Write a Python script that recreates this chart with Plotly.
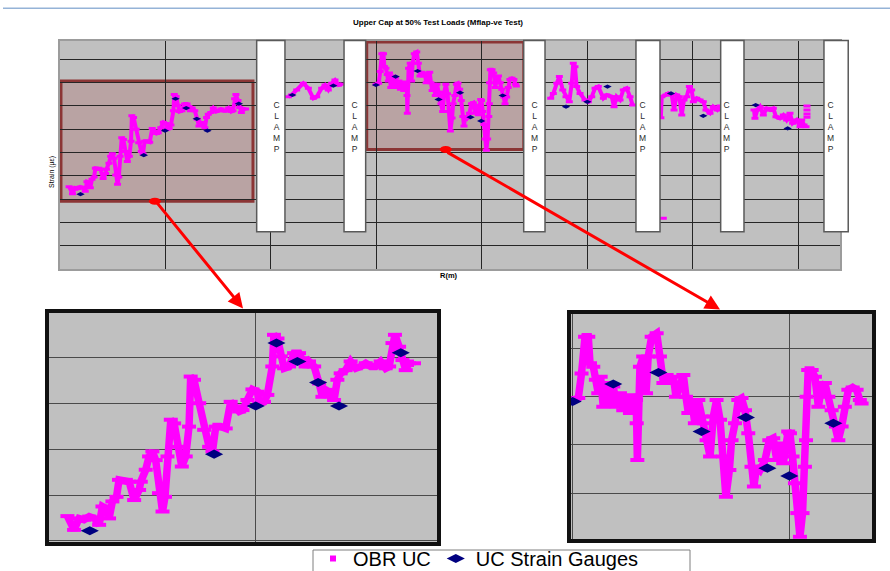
import plotly.graph_objects as go

W, H = 890, 571
FONT = "Arial, 'Liberation Sans', sans-serif"
PINK = "#FF00FF"
NAVY = "#000080"

# ---------------------------------------------------------------------------
# OBR (fibre optic) strain along the upper cap, one list per measured zone
# between clamps.  R in m, strain in microstrain.
# ---------------------------------------------------------------------------
R_OBR_1 = [0.091, 0.123, 0.147, 0.171, 0.196, 0.220, 0.244, 0.260, 0.276, 0.292,
           0.308, 0.328, 0.340, 0.373, 0.389, 0.413, 0.437, 0.445, 0.469, 0.485,
           0.501, 0.517, 0.533, 0.550, 0.562, 0.574, 0.590, 0.606, 0.622, 0.643,
           0.662, 0.678, 0.686, 0.702, 0.727, 0.751, 0.775, 0.791, 0.807, 0.831,
           0.855, 0.879, 0.903, 0.920, 0.936, 0.960, 0.984, 1.008, 1.016, 1.040,
           1.056, 1.080, 1.088, 1.105, 1.121, 1.137, 1.161, 1.185, 1.209, 1.225,
           1.241, 1.257, 1.282, 1.306, 1.322, 1.338, 1.362, 1.378, 1.394, 1.410,
           1.434, 1.458, 1.483, 1.507, 1.531, 1.555, 1.579, 1.603, 1.627, 1.644,
           1.660, 1.672, 1.692, 1.708, 1.724, 1.740, 1.764]
STRAIN_OBR_1 = [354, 324, 349, 346, 353, 349, 335, 375, 371, 349,
                386, 396, 433, 433, 429, 389, 411, 429, 455, 484,
                495, 476, 404, 364, 396, 484, 564, 556, 505, 462,
                484, 549, 658, 651, 600, 542, 505, 495, 549, 549,
                545, 603, 593, 582, 585, 607, 630, 625, 600, 603,
                618, 680, 749, 741, 702, 676, 680, 709, 709, 698,
                680, 691, 680, 643, 614, 629, 622, 607, 651, 665,
                672, 691, 676, 680, 687, 680, 680, 691, 676, 680,
                731, 749, 723, 694, 672, 687, 687]

R_OBR_2 = [2.169, 2.201, 2.248, 2.311, 2.359, 2.406, 2.438, 2.485, 2.517, 2.548,
           2.580, 2.611, 2.643, 2.675]
STRAIN_OBR_2 = [740, 747, 769, 797, 776, 733, 740, 776, 790, 769,
                797, 811, 790, 793]

R_OBR_3 = [3.002, 3.025, 3.040, 3.056, 3.071, 3.079, 3.094, 3.106, 3.117, 3.128,
           3.140, 3.156, 3.171, 3.186, 3.202, 3.217, 3.232, 3.248, 3.263, 3.278,
           3.291, 3.294, 3.297, 3.309, 3.324, 3.337, 3.347, 3.363, 3.386, 3.401,
           3.417, 3.432, 3.447, 3.463, 3.475, 3.493, 3.509, 3.521, 3.532, 3.547,
           3.562, 3.578, 3.593, 3.604, 3.616, 3.632, 3.647, 3.662, 3.678, 3.693,
           3.705, 3.721, 3.731, 3.747, 3.762, 3.777, 3.793, 3.808, 3.823, 3.834,
           3.846, 3.862, 3.885, 3.905, 3.923, 3.939, 3.954, 3.969, 3.992, 4.000,
           4.012, 4.023, 4.034, 4.046, 4.058, 4.069, 4.074, 4.077, 4.084, 4.100,
           4.115, 4.131, 4.146, 4.161, 4.177, 4.192, 4.212, 4.223, 4.238, 4.253,
           4.269, 4.289, 4.307, 4.322, 4.330]
STRAIN_OBR_3 = [793, 797, 848, 924, 924, 869, 862, 835, 807, 841,
                779, 828, 786, 821, 779, 807, 772, 800, 766, 803,
                793, 745, 669, 862, 883, 807, 883, 924, 931, 883,
                828, 845, 828, 841, 800, 821, 845, 800, 766, 793,
                745, 793, 759, 745, 710, 676, 759, 793, 752, 676,
                593, 648, 710, 745, 793, 797, 772, 724, 655, 614,
                655, 648, 669, 710, 714, 669, 703, 662, 728, 724,
                676, 621, 559, 510, 559, 655, 710, 800, 855, 855,
                841, 779, 821, 828, 800, 772, 738, 710, 738, 779,
                814, 819, 814, 793, 786]

R_OBR_4 = [4.656, 4.681, 4.713, 4.738, 4.770, 4.801, 4.832, 4.855, 4.870, 4.886,
           4.902, 4.934, 4.981, 5.013, 5.045, 5.076, 5.107, 5.155, 5.187, 5.234,
           5.256, 5.281, 5.313, 5.344, 5.376, 5.408, 5.433]
STRAIN_OBR_4 = [733, 754, 797, 826, 769, 740, 718, 797, 883, 868,
                783, 754, 726, 718, 740, 776, 783, 733, 747, 740,
                697, 740, 726, 769, 776, 740, 704]

R_OBR_5 = [5.700, 5.708, 5.749, 5.771, 5.803, 5.825, 5.850, 5.875, 5.898, 5.919,
           5.945, 5.970, 5.992, 6.008, 6.040, 6.071, 6.102, 6.128, 6.166, 6.197,
           6.235, 6.261]
STRAIN_OBR_5 = [650, 740, 747, 754, 747, 683, 747, 740, 661, 726,
                740, 783, 769, 718, 733, 726, 718, 683, 669, 697,
                683, 700]

R_OBR_6 = [6.583, 6.592, 6.614, 6.640, 6.671, 6.703, 6.735, 6.766, 6.791, 6.829,
           6.861, 6.892, 6.924, 6.949, 6.987, 7.019, 7.035, 7.057, 7.076]
STRAIN_OBR_6 = [683, 647, 683, 697, 661, 690, 683, 690, 654, 647,
                661, 640, 669, 626, 640, 611, 640, 619, 611]

# isolated OBR readings (not joined to their neighbours)
R_OBR_SINGLE = [5.723, 7.085, 7.085, 7.085, 7.085]
STRAIN_OBR_SINGLE = [219, 700, 683, 666, 652]

# conventional strain gauges on the upper cap
R_GAUGE = [0.199, 0.799, 1.000, 1.100, 1.201, 1.301, 1.402, 1.700,
           2.207, 2.596,
           2.999, 3.186, 3.394, 3.593, 3.797, 3.896, 3.997, 4.200,
           4.801, 5.003, 5.194,
           5.796, 6.102,
           6.599, 6.902]
STRAIN_GAUGE = [322, 489, 594, 731, 691, 645, 594, 710,
                747, 787,
                790, 826, 850, 728, 757, 652, 636, 745,
                697, 718, 783,
                754, 658,
                704, 604]

# clamp positions along the blade (R start, R end)
CLAMPS_R = [(1.869, 2.137), (2.697, 2.902), (4.400, 4.602),
            (5.464, 5.692), (6.267, 6.488), (7.246, 7.476)]

# axis extents
MAIN_R = [0.0, 7.398]
MAIN_STRAIN = [0.0, 978.5]
ZOOM1_R = [0.002, 1.875]
ZOOM1_STRAIN = [297.6, 796.5]
ZOOM2_R = [2.990, 4.378]
ZOOM2_STRAIN = [505.4, 971.0]

# highlighted regions on the overview (R0, R1, strain0, strain1)
HIGHLIGHTS = [(0.014, 1.834, 291.5, 807.0), (2.912, 4.401, 513.5, 974.0)]

TITLE = "Upper Cap at 50% Test Loads (Mflap-ve Test)"


def joined(pairs):
    """Concatenate (x, y) lists with None breaks between them."""
    xs, ys = [], []
    for x, y in pairs:
        if xs:
            xs.append(None)
            ys.append(None)
        xs.extend(x)
        ys.extend(y)
    return xs, ys


zones = [(R_OBR_1, STRAIN_OBR_1), (R_OBR_2, STRAIN_OBR_2), (R_OBR_3, STRAIN_OBR_3),
         (R_OBR_4, STRAIN_OBR_4), (R_OBR_5, STRAIN_OBR_5), (R_OBR_6, STRAIN_OBR_6)]
zones += [([r], [s]) for r, s in zip(R_OBR_SINGLE, STRAIN_OBR_SINGLE)]
R_OBR, STRAIN_OBR = joined(zones)


def px_x(p):
    return p / W


def px_y(p):
    return 1 - p / H


fig = go.Figure()

panels = [
    dict(xa="x", ya="y", lw=4, mk=5, mlw=3, gs=6),
    dict(xa="x2", ya="y2", lw=7.5, mk=10, mlw=4, gs=13),
    dict(xa="x3", ya="y3", lw=7.5, mk=10, mlw=4, gs=13),
]
for i, p in enumerate(panels):
    fig.add_trace(go.Scatter(
        x=R_OBR, y=STRAIN_OBR, xaxis=p["xa"], yaxis=p["ya"],
        mode="lines+markers", name="OBR UC", showlegend=False,
        line=dict(color=PINK, width=p["lw"]),
        marker=dict(symbol="line-ew", size=p["mk"], color=PINK,
                    line=dict(color=PINK, width=p["mlw"])),
        connectgaps=False, hoverinfo="skip"))
    if i == 1:
        # legend key for the OBR series: small square marker
        fig.add_trace(go.Scatter(
            x=[None], y=[None], xaxis=p["xa"], yaxis=p["ya"], mode="markers",
            name="OBR UC", marker=dict(symbol="square", size=6, color=PINK)))
    fig.add_trace(go.Scatter(
        x=R_GAUGE, y=STRAIN_GAUGE, xaxis=p["xa"], yaxis=p["ya"],
        mode="markers", name="UC Strain Gauges", showlegend=(i == 1),
        marker=dict(symbol="diamond-wide", size=p["gs"], color=NAVY),
        hoverinfo="skip"))

common = dict(showticklabels=False, ticks="", zeroline=False, showgrid=True,
              gridwidth=1, fixedrange=True, showline=True, mirror=True)
main_ax = dict(common, gridcolor="#262626", linecolor="#9c9c9c", linewidth=1.5)
inset_ax = dict(common, gridcolor="#4a4a4a", linecolor="#111111", linewidth=4)

fig.update_layout(
    width=W, height=H, autosize=False,
    margin=dict(l=0, r=0, t=0, b=0, pad=0, autoexpand=False),
    paper_bgcolor="white", plot_bgcolor="#C0C0C0",
    font=dict(family=FONT, color="black"),
    title=dict(text="<b>" + TITLE + "</b>", x=px_x(438), y=px_y(22),
               xref="paper", yref="paper", xanchor="center", yanchor="middle",
               font=dict(size=8, family=FONT, color="black")),
    xaxis=dict(main_ax, domain=[px_x(59.5), px_x(840)], range=MAIN_R,
               tick0=0, dtick=1, anchor="y"),
    yaxis=dict(main_ax, domain=[px_y(269.3), px_y(41)], range=MAIN_STRAIN,
               tick0=0, dtick=100, anchor="x"),
    xaxis2=dict(inset_ax, domain=[px_x(49), px_x(437)], range=ZOOM1_R,
                tick0=0, dtick=1, anchor="y2"),
    yaxis2=dict(inset_ax, domain=[px_y(542), px_y(313)], range=ZOOM1_STRAIN,
                tick0=0, dtick=100, anchor="x2"),
    xaxis3=dict(inset_ax, domain=[px_x(570.7), px_x(872)], range=ZOOM2_R,
                tick0=0, dtick=1, anchor="y3"),
    yaxis3=dict(inset_ax, domain=[px_y(539), px_y(314)], range=ZOOM2_STRAIN,
                tick0=0, dtick=100, anchor="x3"),
    showlegend=True,
    legend=dict(orientation="h", xref="container", yref="container",
                x=px_x(313), y=px_y(539), xanchor="left", yanchor="top",
                bgcolor="rgba(0,0,0,0)", borderwidth=0,
                font=dict(size=20, family=FONT, color="black"),
                itemwidth=30, tracegroupgap=0),
)

shapes = [
    # header rule
    dict(type="line", xref="paper", yref="paper", x0=px_x(3), x1=1,
         y0=px_y(8.3), y1=px_y(8.3), line=dict(color="#95B3D7", width=1.5)),
    # legend frame
    dict(type="rect", xref="paper", yref="paper", x0=px_x(313), x1=px_x(690),
         y0=px_y(580), y1=px_y(550), layer="above", fillcolor="white",
         line=dict(color="#7f7f7f", width=1)),
]
for r0, r1, s0, s1 in HIGHLIGHTS:
    shapes.append(dict(type="rect", xref="x", yref="y", x0=r0, x1=r1, y0=s0, y1=s1,
                       layer="below", fillcolor="rgba(150,0,0,0.15)",
                       line=dict(color="#8B3535", width=3)))
span = MAIN_R[1] - MAIN_R[0]
clamp_bottom = 0.1647
for r0, r1 in CLAMPS_R:
    shapes.append(dict(type="rect", xref="x domain", yref="y domain",
                       x0=(r0 - MAIN_R[0]) / span, x1=(r1 - MAIN_R[0]) / span,
                       y0=clamp_bottom, y1=1.002, layer="above",
                       fillcolor="white", line=dict(color="#5a5a5a", width=1.5)))

annotations = [
    dict(text="Strain (µε)", xref="paper", yref="paper", x=px_x(46), y=px_y(154),
         textangle=-90, showarrow=False, font=dict(size=7, family=FONT)),
    dict(text="<b>R(m)</b>", xref="paper", yref="paper", x=px_x(449), y=px_y(275.5),
         showarrow=False, font=dict(size=7.5, family=FONT)),
]
for r0, r1 in CLAMPS_R:
    annotations.append(dict(
        text="C<br>L<br>A<br>M<br>P", xref="x domain", yref="y domain",
        x=((r0 + r1) / 2 - MAIN_R[0]) / span, y=0.7525, showarrow=False,
        font=dict(size=8.5, family=FONT, color="#2a2a2a")))

# connectors from each highlighted region to its enlarged view
connectors = [
    dict(src=((HIGHLIGHTS[0][0] + HIGHLIGHTS[0][1]) / 2 - 0.02, HIGHLIGHTS[0][2]),
         head=("x2", 0.9386), ax=-88, ay=-108),
    dict(src=(3.661, HIGHLIGHTS[1][2]), head=("x3", 3.678), ax=-274, ay=-158),
]
for c in connectors:
    shapes.append(dict(type="circle", xref="x", yref="y", xsizemode="pixel",
                       ysizemode="pixel", xanchor=c["src"][0], yanchor=c["src"][1],
                       x0=-6, x1=6, y0=-3.5, y1=3.5, layer="above",
                       fillcolor="#FF0000", line=dict(width=0)))
    axis_x, hx = c["head"]
    annotations.append(dict(
        text="", xref=axis_x, yref=axis_x.replace("x", "y") + " domain",
        x=hx, y=1.02, showarrow=True, axref="pixel", ayref="pixel",
        ax=c["ax"], ay=c["ay"], arrowhead=2, arrowsize=1, arrowwidth=3,
        arrowcolor="#FF0000", standoff=0, startstandoff=0))

fig.update_layout(shapes=shapes, annotations=annotations)

fig.write_html("out.html")
